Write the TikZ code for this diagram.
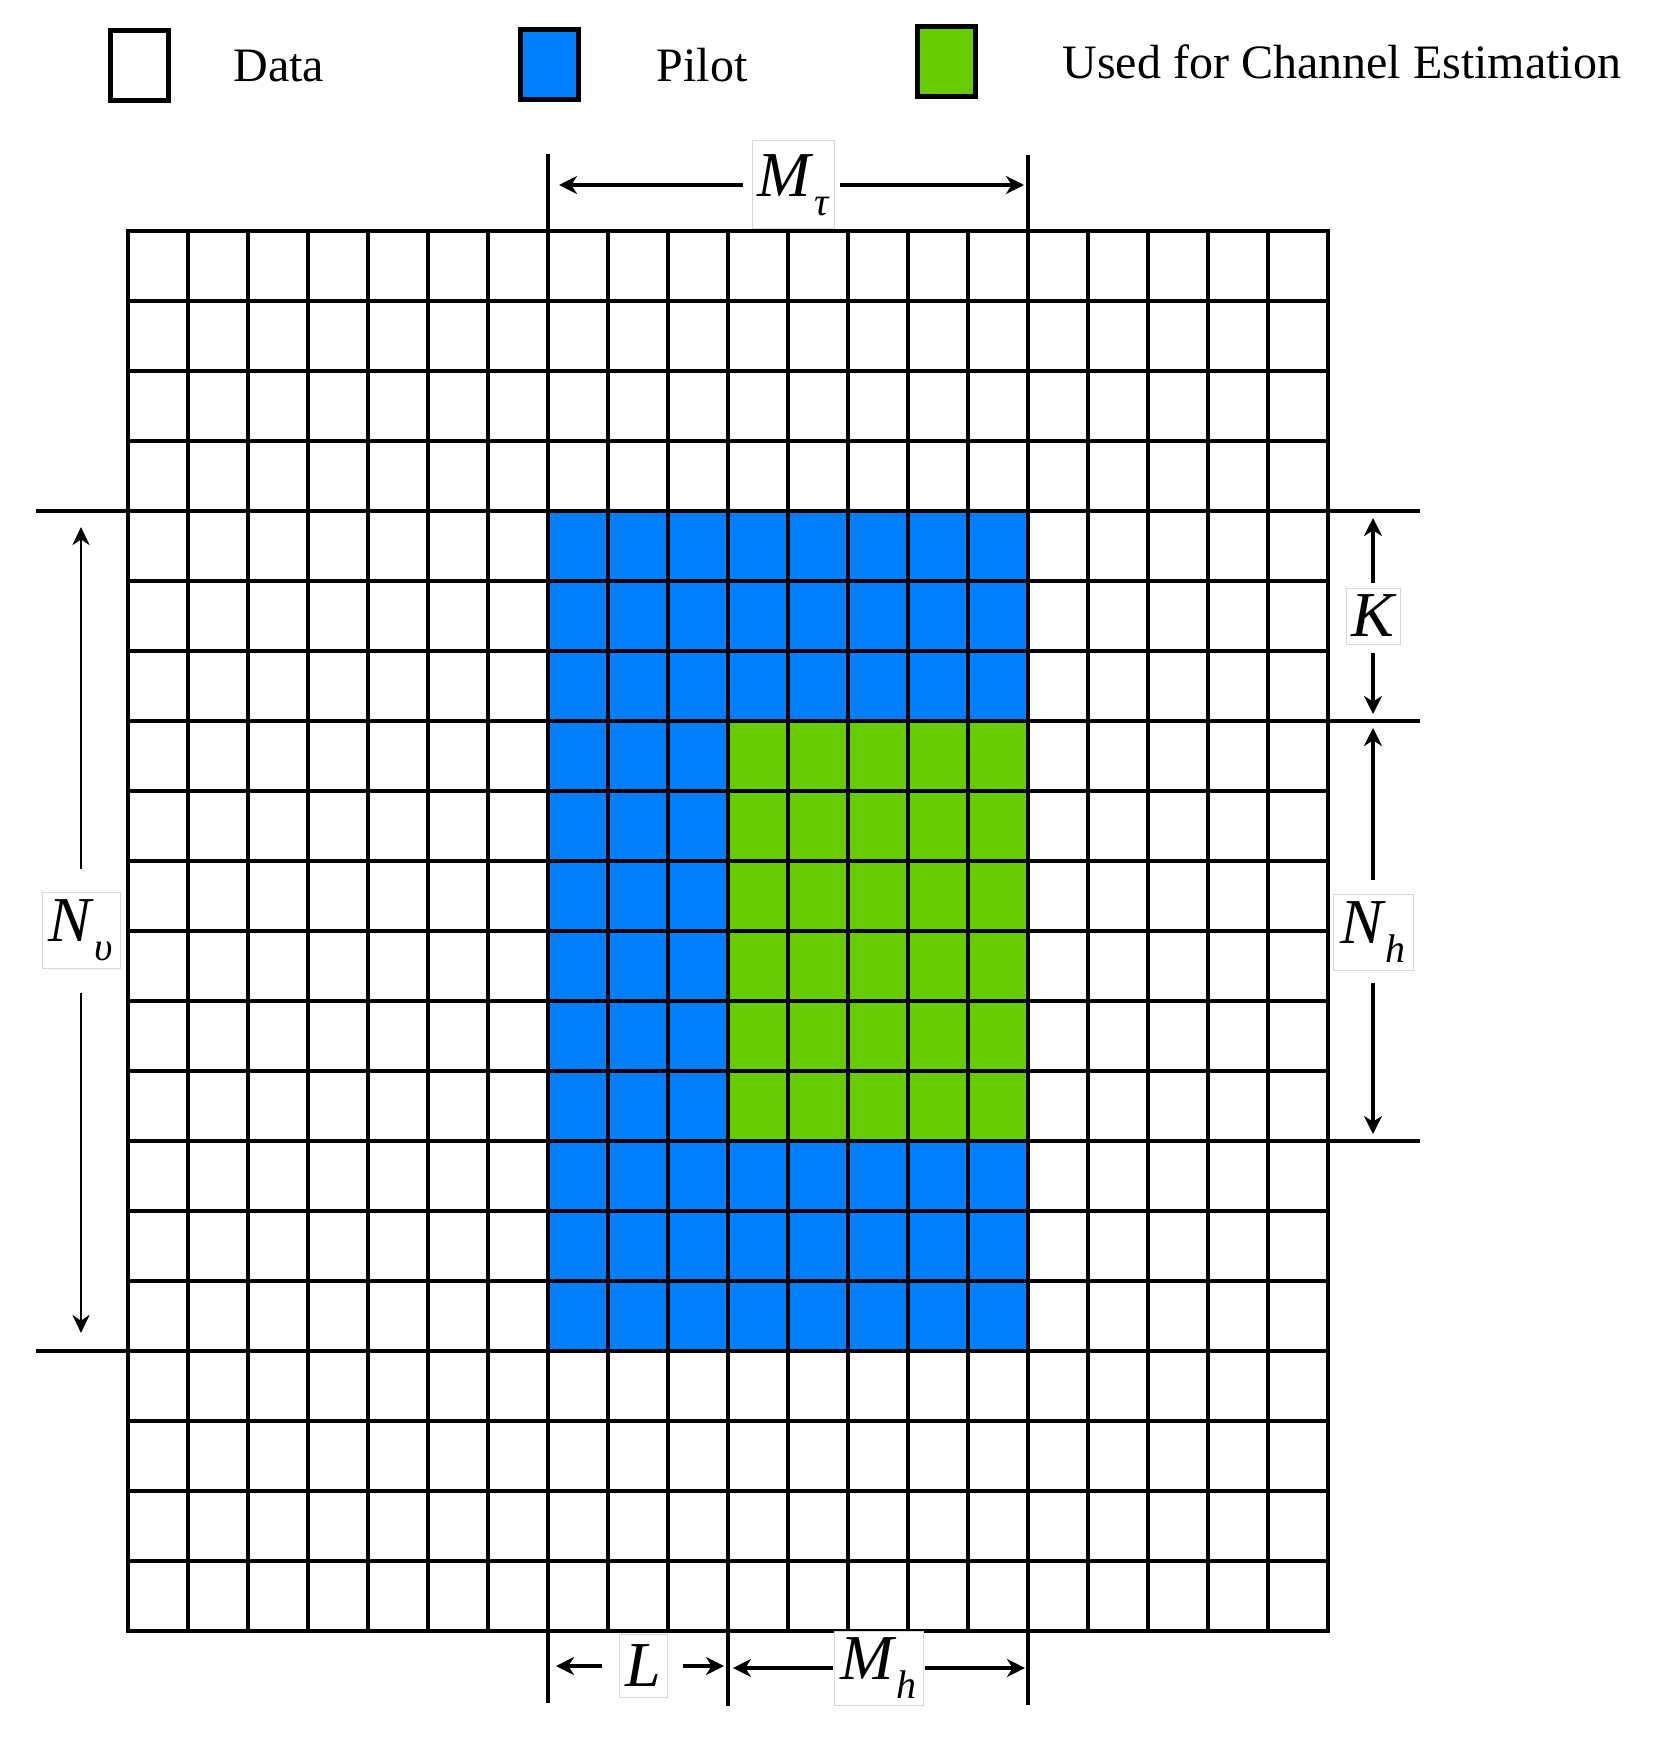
\documentclass[tikz,border=0pt]{standalone}
\usepackage{fontspec}
\setmainfont{Liberation Serif}
\usetikzlibrary{arrows.meta}
\definecolor{pilotblue}{RGB}{0,128,255}
\definecolor{estgreen}{RGB}{102,204,0}
\definecolor{lblborder}{RGB}{215,215,215}
\newcommand{\mysub}[1]{\kern1.5pt\raisebox{-9.5pt}{\fontsize{20}{21}\selectfont #1}}
\begin{document}
\begin{tikzpicture}[x=0.5pt,y=-0.5pt,
  gridline/.style={line width=2.2pt},
  extline/.style={line width=2.2pt},
  tickline/.style={line width=2pt},
  dimarrow/.style={line width=1.6pt,-{Stealth[length=9pt,width=9pt,inset=2.8pt]}},
  thinarrow/.style={line width=1.4pt,-{Stealth[length=9pt,width=8.5pt,inset=2.8pt]}},
  lbl/.style={draw=lblborder,line width=0.5pt,fill=white,inner sep=0pt,font=\fontsize{32}{36}\selectfont\itshape},
  legbox/.style={draw=black,line width=2.3pt,minimum width=29pt,minimum height=35pt,inner sep=0pt},
  legtext/.style={anchor=base west,inner sep=0pt,font=\fontsize{24}{28}\selectfont}
]
\useasboundingbox (0,0) rectangle (1660,1739);

% legend
\node[legbox] (legdata) at (139.5,65.5) {};
\node[legbox,fill=pilotblue] (legpilot) at (549.5,64.5) {};
\node[legbox,fill=estgreen] (legest) at (946.5,61.8) {};
\node[legtext] (tdata) at (233,81.7) {Data};
\node[legtext] (tpilot) at (656.5,81.7) {Pilot};
\node[legtext] (test) at (1062,79) {Used for Channel Estimation};

% coloured regions
\fill[pilotblue] (547.7,511) rectangle (1027.7,1351);
\fill[estgreen] (727.7,721) rectangle (1027.7,1141);

% grid
\foreach \i in {1,...,19} \draw[gridline] ({127.7+60*\i},231) -- ({127.7+60*\i},1631);
\foreach \j in {1,...,19} \draw[gridline] (127.7,{231+70*\j}) -- (1327.7,{231+70*\j});
\draw[gridline] (127.7,231) rectangle (1327.7,1631);

% extension lines and ticks
\draw[tickline] (547.7,154) -- (547.7,231);
\draw[tickline] (1027.7,155) -- (1027.7,231);
\draw[extline] (35.7,511) -- (127.7,511);
\draw[extline] (35.7,1351) -- (127.7,1351);
\draw[extline] (1327.7,511) -- (1420,511);
\draw[extline] (1327.7,721) -- (1420,721);
\draw[extline] (1327.7,1141) -- (1420,1141);
\draw[tickline] (547.7,1631) -- (547.7,1703);
\draw[tickline] (727.7,1631) -- (727.7,1706);
\draw[tickline] (1027.7,1631) -- (1027.7,1705);

% labels
\node[lbl,minimum width=41pt,minimum height=44pt] (mtau) at (793,185) {M\mysub{τ}};
\node[lbl,minimum width=39pt,minimum height=38pt] (nv) at (81,930) {N\mysub{υ}};
\node[lbl,minimum width=27pt,minimum height=28pt] (k) at (1373,616) {K};
\node[lbl,minimum width=40pt,minimum height=38pt] (nh) at (1373,932) {N\mysub{h}};
\node[lbl,minimum width=24pt,minimum height=31.5pt] (l) at (643,1666) {L};
\node[lbl,minimum width=44.5pt,minimum height=37pt] (mh) at (878.5,1668) {M\mysub{h}};

% arrow tips
\coordinate (tauL) at (559,185);
\coordinate (tauR) at (1024,185);
\coordinate (nvT) at (81,527);
\coordinate (nvB) at (81,1333);
\coordinate (kT) at (1373,518);
\coordinate (kB) at (1373,714);
\coordinate (nhT) at (1373,728);
\coordinate (nhB) at (1373,1134);
\coordinate (lL) at (556,1666);
\coordinate (lR) at (724,1666);
\coordinate (mhL) at (733,1668);
\coordinate (mhR) at (1025,1668);

\draw[dimarrow,shorten <=4.5pt] (mtau) -- (tauL);
\draw[dimarrow,shorten <=2.5pt] (mtau) -- (tauR);
\draw[thinarrow,shorten <=11.5pt] (nv) -- (nvT);
\draw[thinarrow,shorten <=12pt] (nv) -- (nvB);
\draw[dimarrow,shorten <=2.5pt] (k) -- (kT);
\draw[dimarrow,shorten <=4pt] (k) -- (kB);
\draw[dimarrow,shorten <=7pt] (nh) -- (nhT);
\draw[dimarrow,shorten <=6pt] (nh) -- (nhB);
\draw[dimarrow,shorten <=8.5pt] (l) -- (lL);
\draw[dimarrow,shorten <=7.5pt] (l) -- (lR);
\draw[dimarrow,shorten <=0.5pt] (mh) -- (mhL);
\draw[dimarrow,shorten <=0.5pt] (mh) -- (mhR);
\end{tikzpicture}
\end{document}
